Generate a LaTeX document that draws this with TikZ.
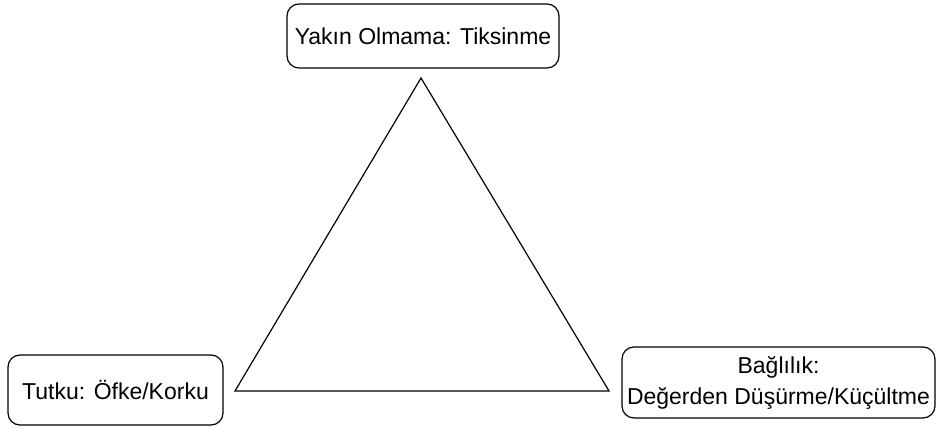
\documentclass[tikz,border=0pt]{standalone}
\usepackage{fontspec}
\setmainfont{Liberation Sans}
\begin{document}
\begin{tikzpicture}[x=1pt, y=1pt,
    labelbox/.style={draw, rounded corners=12pt, line width=1.2pt, inner sep=0pt,
        align=center, font=\fontsize{23}{31}\selectfont}]

    \useasboundingbox (0, 0) rectangle (937, 430);

    %% Boxes

    % Top
    \node [labelbox, minimum width=272, minimum height=64] (yakin) at (423, 394)
        {Yakın Olmama: Tiksinme};

    % Left
    \node [labelbox, minimum width=215, minimum height=70] (tutku) at (115.5, 40)
        {Tutku: Öfke/Korku};

    % Right
    \node [labelbox, minimum width=313, minimum height=71] (baglilik) at (778.5, 47.5)
        {Bağlılık:\\Değerden Düşürme/Küçültme};

    %% Triangle
    \coordinate (apex) at (421, 352);
    \coordinate (left) at (235, 39);
    \coordinate (right) at (609, 39);
    \draw [line width=1.2pt, line join=miter] (apex) -- (left) -- (right) -- cycle;

\end{tikzpicture}
\end{document}
